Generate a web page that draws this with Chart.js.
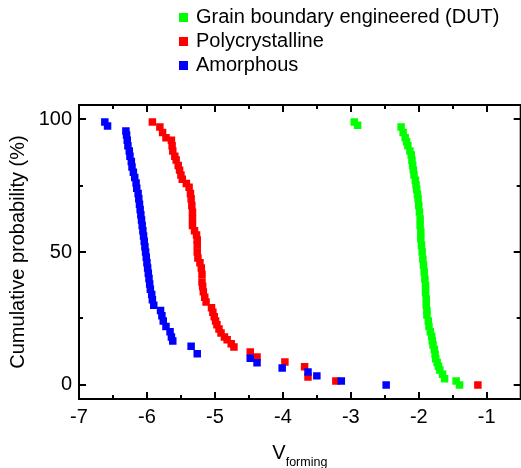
<!DOCTYPE html>
<html>
<head>
<meta charset="utf-8">
<script src="https://cdn.jsdelivr.net/npm/chart.js@4.4.1/dist/chart.umd.min.js"></script>
<style>
  html, body { margin: 0; padding: 0; background: #fff; overflow: hidden; }
  #wrap { width: 526px; height: 468px; }
  canvas { display: block; }
</style>
</head>
<body>
<div id="wrap"><canvas id="chart" width="526" height="468"></canvas></div>
<script>
// Valeurs (V forming, probabilité cumulée en %)
const seriesNames = ['Grain boundary engineered (DUT)', 'Polycrystalline', 'Amorphous'];
const seriesColors = ['#00ff00', '#ff0000', '#0000ff'];

const gbeV = [-2.95, -2.90, -2.26, -2.23, -2.20, -2.18, -2.16, -2.13, -2.11, -2.10, -2.09, -2.08, -2.07, -2.05, -2.04, -2.03, -2.02, -2.01, -2.00, -1.99, -1.98, -1.98, -1.97, -1.97, -1.96, -1.95, -1.94, -1.93, -1.92, -1.91, -1.90, -1.90, -1.89, -1.89, -1.88, -1.88, -1.86, -1.85, -1.83, -1.81, -1.80, -1.79, -1.77, -1.76, -1.75, -1.73, -1.71, -1.69, -1.65, -1.62, -1.45, -1.40];
const gbeP = [98.9, 97.7, 97.0, 95.0, 93.0, 91.5, 90.0, 88.0, 86.5, 84.5, 82.5, 80.8, 79.0, 77.0, 75.2, 73.5, 71.7, 70.0, 67.5, 65.0, 62.4, 60.0, 57.5, 55.0, 52.5, 50.0, 47.4, 45.0, 42.5, 39.8, 37.3, 34.8, 32.3, 30.0, 28.0, 26.3, 24.0, 22.0, 20.0, 18.3, 16.6, 15.0, 13.3, 11.5, 9.8, 8.4, 7.0, 5.6, 4.0, 2.3, 1.5, 0.0];

const polyV = [-5.92, -5.81, -5.77, -5.72, -5.64, -5.63, -5.62, -5.59, -5.57, -5.54, -5.52, -5.50, -5.48, -5.42, -5.38, -5.36, -5.35, -5.34, -5.33, -5.33, -5.33, -5.30, -5.27, -5.26, -5.26, -5.26, -5.25, -5.22, -5.20, -5.19, -5.19, -5.18, -5.17, -5.15, -5.13, -5.05, -5.03, -5.01, -4.99, -4.97, -4.94, -4.91, -4.86, -4.82, -4.76, -4.72, -4.48, -4.38, -3.97, -3.68, -3.63, -3.22, -1.13];
const polyP = [98.9, 97.0, 95.0, 93.0, 92.0, 90.0, 88.0, 86.0, 84.6, 82.5, 80.8, 79.0, 77.4, 75.8, 74.4, 72.0, 70.0, 67.5, 65.0, 62.5, 60.0, 58.0, 56.4, 54.5, 52.6, 50.0, 47.7, 46.0, 44.0, 41.5, 38.7, 37.0, 35.0, 33.0, 31.2, 29.0, 27.3, 25.6, 24.0, 22.6, 21.0, 19.5, 18.0, 17.0, 15.5, 14.3, 12.4, 10.5, 8.6, 6.8, 3.0, 1.5, 0.0];

const amorV = [-6.62, -6.58, -6.31, -6.30, -6.29, -6.28, -6.26, -6.25, -6.23, -6.22, -6.20, -6.18, -6.16, -6.15, -6.13, -6.12, -6.11, -6.10, -6.09, -6.08, -6.07, -6.06, -6.05, -6.04, -6.03, -6.02, -6.01, -6.00, -5.99, -5.98, -5.97, -5.96, -5.95, -5.93, -5.92, -5.90, -5.80, -5.78, -5.76, -5.72, -5.66, -5.64, -5.62, -5.35, -5.26, -4.48, -4.38, -4.01, -3.63, -3.50, -3.14, -2.48];
const amorP = [98.9, 97.4, 95.5, 94.0, 92.0, 90.0, 88.0, 86.0, 84.0, 82.0, 80.0, 78.0, 76.0, 74.0, 72.0, 70.0, 68.0, 66.0, 64.0, 62.0, 60.0, 58.0, 56.0, 54.0, 52.0, 50.0, 48.0, 46.0, 44.0, 42.0, 40.0, 38.0, 36.0, 34.0, 32.0, 30.0, 28.0, 26.0, 24.0, 22.0, 20.0, 18.0, 16.5, 14.5, 11.7, 10.0, 8.3, 6.4, 4.9, 3.4, 1.5, 0.0];

const xTickValues = [-7, -6, -5, -4, -3, -2, -1];
const xMinorValues = [-6.5, -5.5, -4.5, -3.5, -2.5, -1.5];
const yTickValues = [0, 50, 100];
const yMinorValues = [25, 75];

const FONT = 'Arial, "Liberation Sans", sans-serif';

function toPoints(xs, ys) {
    return xs.map((v, i) => ({ x: v, y: ys[i] }));
}

// cadre avec graduations vers l'intérieur, légende et titre de l'axe x
const framePlugin = {
    id: 'frame',
    afterDraw(chart) {
        const { ctx, chartArea: a, scales: { x, y } } = chart;
        ctx.save();
        ctx.strokeStyle = '#000';
        ctx.lineWidth = 2;
        ctx.strokeRect(a.left, a.top, a.right - a.left, a.bottom - a.top);

        const seg = (x1, y1, x2, y2) => {
            ctx.beginPath();
            ctx.moveTo(x1, y1);
            ctx.lineTo(x2, y2);
            ctx.stroke();
        };
        xTickValues.forEach(v => {
            const px = Math.round(x.getPixelForValue(v));
            seg(px, a.bottom, px, a.bottom - 7);
            seg(px, a.top, px, a.top + 7);
        });
        xMinorValues.forEach(v => {
            const px = Math.round(x.getPixelForValue(v));
            seg(px, a.bottom, px, a.bottom - 4);
            seg(px, a.top, px, a.top + 4);
        });
        yTickValues.forEach(v => {
            const py = Math.round(y.getPixelForValue(v));
            seg(a.left, py, a.left + 7, py);
            seg(a.right, py, a.right - 7, py);
        });
        yMinorValues.forEach(v => {
            const py = Math.round(y.getPixelForValue(v));
            seg(a.left, py, a.left + 4, py);
            seg(a.right, py, a.right - 4, py);
        });

        // légende
        ctx.font = '20px ' + FONT;
        ctx.textBaseline = 'middle';
        ctx.textAlign = 'left';
        seriesNames.forEach((name, i) => {
            const cy = 17 + i * 24;
            ctx.fillStyle = seriesColors[i];
            ctx.fillRect(179, cy - 4, 9, 9);
            ctx.fillStyle = '#000';
            ctx.fillText(name, 196, cy);
        });

        // titre de l'axe x : V avec indice "forming"
        ctx.textBaseline = 'alphabetic';
        ctx.font = '20px ' + FONT;
        const wV = ctx.measureText('V').width;
        ctx.font = '12.5px ' + FONT;
        const wSub = ctx.measureText('forming').width;
        const x0 = (a.left + a.right) / 2 - (wV + wSub) / 2;
        ctx.font = '20px ' + FONT;
        ctx.fillText('V', x0, 459);
        ctx.font = '12.5px ' + FONT;
        ctx.fillText('forming', x0 + wV, 466);
        ctx.restore();
    }
};

const datasets = [
    { label: seriesNames[0], data: toPoints(gbeV, gbeP), backgroundColor: seriesColors[0], order: 2 },
    { label: seriesNames[1], data: toPoints(polyV, polyP), backgroundColor: seriesColors[1], order: 1 },
    { label: seriesNames[2], data: toPoints(amorV, amorP), backgroundColor: seriesColors[2], order: 0 }
];
datasets.forEach(d => {
    d.pointStyle = 'rect';
    d.pointRadius = 5.3;
    d.pointBorderWidth = 0;
    d.borderColor = d.backgroundColor;
});

new Chart(document.getElementById('chart'), {
    type: 'scatter',
    data: { datasets: datasets },
    options: {
        responsive: false,
        animation: false,
        layout: { padding: { top: 105, right: 3, left: 0, bottom: 0 } },
        plugins: {
            legend: { display: false },
            tooltip: { enabled: false }
        },
        scales: {
            x: {
                type: 'linear',
                min: -7,
                max: -0.5,
                afterBuildTicks: s => { s.ticks = xTickValues.map(v => ({ value: v })); },
                afterFit: s => { s.height = 69; },
                grid: { display: false, drawTicks: false },
                border: { display: false },
                ticks: {
                    padding: 6,
                    color: '#000',
                    font: { family: FONT, size: 20 },
                    maxRotation: 0,
                    autoSkip: false
                }
            },
            y: {
                type: 'linear',
                min: -5.3,
                max: 105.3,
                afterBuildTicks: s => { s.ticks = yTickValues.map(v => ({ value: v })); },
                afterFit: s => { s.width = 79; },
                grid: { display: false, drawTicks: false },
                border: { display: false },
                ticks: {
                    padding: 7,
                    color: '#000',
                    font: { family: FONT, size: 20 }
                },
                title: {
                    display: true,
                    text: 'Cumulative probability (%)',
                    color: '#000',
                    font: { family: FONT, size: 20 },
                    padding: { top: 6, bottom: 0 }
                }
            }
        }
    },
    plugins: [framePlugin]
});
</script>
</body>
</html>
